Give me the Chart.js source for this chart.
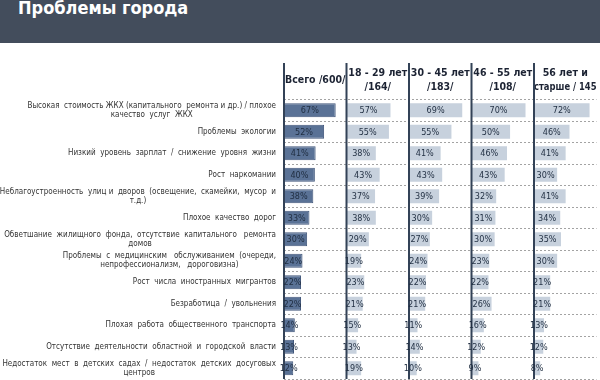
<!DOCTYPE html>
<html>
<head>
<meta charset="utf-8">
<script src="https://cdn.jsdelivr.net/npm/chart.js@4/dist/chart.umd.min.js"></script>
<style>
  html, body { margin: 0; padding: 0; background: #ffffff; }
  #wrap { position: relative; width: 600px; height: 380px; overflow: hidden; }
  #banner { position: absolute; left: 0; top: 0; width: 600px; height: 43px; background: #434d5c; }
  #title { position: absolute; left: 18px; top: -3px; color: #ffffff; font: bold 18px "DejaVu Sans Condensed", "DejaVu Sans", sans-serif; }
  #box { position: absolute; left: 0; top: 0; width: 600px; height: 380px; }
</style>
</head>
<body>
<div id="wrap">
  <div id="banner"><div id="title">Проблемы города</div></div>
  <div id="box"><canvas id="c"></canvas></div>
</div>
<script>
const categories = [
  ["Высокая  стоимость ЖКХ (капитального  ремонта и др.) / плохое", "качество  услуг  ЖКХ"],
  ["Проблемы  экологии"],
  ["Низкий  уровень  зарплат  /  снижение  уровня  жизни"],
  ["Рост  наркомании"],
  ["Неблагоустроенность  улиц и  дворов  (освещение,  скамейки,  мусор  и", "т.д.)"],
  ["Плохое  качество  дорог"],
  ["Обветшание  жилищного  фонда,  отсутствие  капитального   ремонта", "домов"],
  ["Проблемы  с  медицинским   обслуживанием  (очереди,", "непрофессионализм,   дороговизна)"],
  ["Рост  числа  иностранных  мигрантов"],
  ["Безработица  /  увольнения"],
  ["Плохая  работа  общественного  транспорта"],
  ["Отсутствие  деятельности  областной  и  городской  власти"],
  ["Недостаток  мест  в  детских  садах  /  недостаток  детских  досуговых", "центров"]
];
const columnHeaders = [
  ["Всего /600/"],
  ["18 - 29 лет", "/164/"],
  ["30 - 45 лет", "/183/"],
  ["46 - 55 лет", "/108/"],
  ["56 лет и", "старше / 145"]
];
const total   = [67, 52, 41, 40, 38, 33, 30, 24, 22, 22, 14, 13, 12];
const age1829 = [57, 55, 38, 43, 37, 38, 29, 19, 23, 21, 15, 13, 19];
const age3045 = [69, 55, 41, 43, 39, 30, 27, 24, 22, 21, 11, 14, 10];
const age4655 = [70, 50, 46, 43, 32, 31, 30, 23, 22, 26, 16, 12, 9];
const age56   = [72, 46, 41, 30, 41, 34, 35, 30, 21, 21, 13, 12, 8];
const seriesValues = [total, age1829, age3045, age4655, age56];
const axisMax = 81;

const DARK = '#5a7296';
const LIGHT = '#c7d1dd';
const LINE = '#334257';
const FONT = '"DejaVu Sans Condensed", "DejaVu Sans", sans-serif';

const xScales = {};
columnHeaders.forEach((h, i) => {
  xScales['x' + i] = {
    type: 'linear',
    position: 'top',
    stack: 'cols',
    stackWeight: 1,
    weight: columnHeaders.length - i,
    min: 0,
    max: axisMax,
    grid: { display: false, drawTicks: false },
    border: { display: false },
    ticks: { display: false },
    title: {
      display: true,
      text: h,
      color: '#1c2333',
      font: { family: FONT, size: 10.5, weight: 'bold', lineHeight: 1.35 },
      padding: h.length === 1 ? { top: 13, bottom: 1 } : { top: 6, bottom: 8 }
    }
  };
});

const columnLines = {
  id: 'columnLines',
  afterDatasetsDraw(chart) {
    const ctx = chart.ctx;
    ctx.save();
    ctx.strokeStyle = LINE;
    ctx.lineWidth = 2;
    columnHeaders.forEach((h, i) => {
      const s = chart.scales['x' + i];
      const x = s.getPixelForValue(0);
      ctx.beginPath();
      ctx.moveTo(x, s.top + 3);
      ctx.lineTo(x, chart.chartArea.bottom);
      ctx.stroke();
    });
    ctx.restore();
  }
};

const valueLabels = {
  id: 'valueLabels',
  afterDatasetsDraw(chart) {
    const ctx = chart.ctx;
    ctx.save();
    ctx.font = '9px ' + FONT;
    ctx.fillStyle = '#1f2d40';
    ctx.textAlign = 'center';
    ctx.textBaseline = 'middle';
    chart.data.datasets.forEach((ds, i) => {
      const meta = chart.getDatasetMeta(i);
      meta.data.forEach((bar, j) => {
        ctx.fillText(ds.data[j] + '%', (bar.x + bar.base) / 2, bar.y + 0.5);
      });
    });
    ctx.restore();
  }
};

const categoryLabels = {
  id: 'categoryLabels',
  afterDraw(chart) {
    const ctx = chart.ctx;
    const ys = chart.scales.y;
    ctx.save();
    ctx.font = '8px ' + FONT;
    ctx.fillStyle = '#333333';
    ctx.textAlign = 'center';
    ctx.textBaseline = 'middle';
    const right = chart.chartArea.left - 8;
    const lh = 9.3;
    categories.forEach((lines, i) => {
      const y = ys.getPixelForTick(i);
      const w = Math.max(...lines.map(l => ctx.measureText(l).width));
      const cx = right - w / 2;
      const y0 = y - (lines.length - 1) * lh / 2;
      lines.forEach((l, k) => ctx.fillText(l, cx, y0 + k * lh));
    });
    ctx.restore();
  }
};

new Chart(document.getElementById('c'), {
  type: 'bar',
  data: {
    labels: categories,
    datasets: seriesValues.map((vals, i) => ({
      label: columnHeaders[i].join(' '),
      data: vals,
      xAxisID: 'x' + i,
      backgroundColor: i === 0 ? DARK : LIGHT,
      borderColor: i === 0 ? '#40567a' : LIGHT,
      borderWidth: i === 0 ? 1 : 0,
      borderSkipped: false
    }))
  },
  options: {
    indexAxis: 'y',
    responsive: true,
    maintainAspectRatio: false,
    animation: false,
    datasets: { bar: { grouped: false, barPercentage: 0.66, categoryPercentage: 1 } },
    layout: { padding: { top: 60, right: 3.5, bottom: 1, left: 0 } },
    plugins: { legend: { display: false }, tooltip: { enabled: false } },
    scales: Object.assign({
      y: {
        type: 'category',
        position: 'left',
        afterFit(scale) { scale.width = 284; },
        grid: { color: '#a3a3a3', lineWidth: 1, drawTicks: false, offset: true },
        border: { display: false, dash: [2, 2] },
        ticks: { display: false, autoSkip: false }
      }
    }, xScales)
  },
  plugins: [columnLines, valueLabels, categoryLabels]
});
</script>
</body>
</html>
